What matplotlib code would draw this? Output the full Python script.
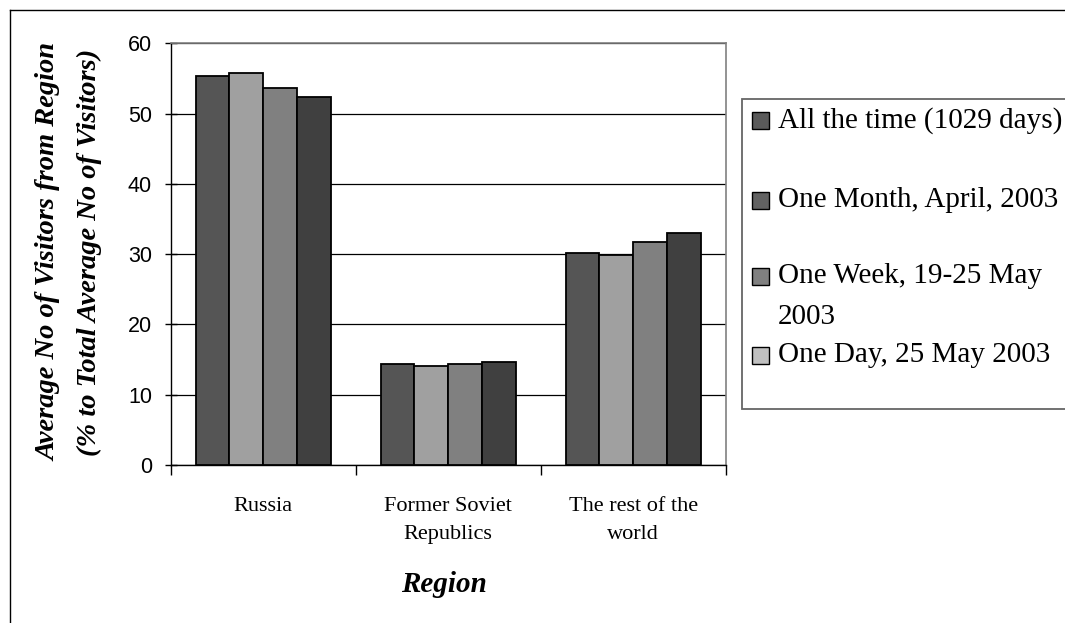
import matplotlib
matplotlib.use("Agg")
import matplotlib.pyplot as plt
from matplotlib.patches import Rectangle
from matplotlib.lines import Line2D
import numpy as np

# ---- data -------------------------------------------------------------
regions = ["Russia", "Former Soviet\nRepublics", "The rest of the\nworld"]
series_labels = ["All the time (1029 days)", "One Month, April, 2003",
                 "One Week, 19-25 May\n2003", "One Day, 25 May 2003"]
all_time = [55.4, 14.4, 30.1]
one_month = [55.8, 14.1, 29.9]
one_week = [53.6, 14.4, 31.7]
one_day = [52.4, 14.6, 33.0]
series_values = [all_time, one_month, one_week, one_day]
y_ticks = [0, 10, 20, 30, 40, 50, 60]

# ---- styling ----------------------------------------------------------
bar_colors = ["#555555", "#a0a0a0", "#808080", "#404040"]
legend_colors = ["#5a5a5a", "#626262", "#808080", "#c0c0c0"]
SERIF = "Liberation Serif"
SANS = "Liberation Sans"

W, H = 1065, 623
fig = plt.figure(figsize=(W / 100, H / 100), dpi=100)


def fx(x):
    return x / W


def fy(y):
    return 1 - y / H


# outer chart frame (left and top edges)
fig.add_artist(Line2D([fx(9.5), fx(9.5)], [fy(10), fy(H + 5)], color="#000000", lw=1.0,
                      transform=fig.transFigure))
fig.add_artist(Line2D([fx(9.5), fx(W + 5)], [fy(10), fy(10)], color="#000000", lw=1.0,
                      transform=fig.transFigure))

left, right, top, bottom = 170.7, 725.7, 43.3, 465.0
ax = fig.add_axes([fx(left), fy(bottom), fx(right - left), (bottom - top) / H])

n_series = len(series_values)
x = np.arange(len(regions))
bar_w = 0.1824
for i, (vals, col) in enumerate(zip(series_values, bar_colors)):
    offs = (i - (n_series - 1) / 2) * bar_w
    ax.bar(x + offs, vals, width=bar_w, color=col, edgecolor="#000000",
           linewidth=1.3, zorder=3)

ax.set_xlim(-0.5, len(regions) - 0.5)
ax.set_ylim(0, 60)
ax.set_yticks(y_ticks)
ax.set_yticklabels([str(t) for t in y_ticks], fontfamily=SANS, fontsize=15.5)
ax.yaxis.grid(True, color="#000000", lw=0.9, zorder=0)
ax.set_axisbelow(True)

ax.set_xticks(x)
ax.set_xticklabels(regions, fontfamily=SERIF, fontsize=16, linespacing=1.65, va="top")
ax.set_xticks(np.arange(len(regions) + 1) - 0.5, minor=True)
ax.tick_params(axis="x", which="major", length=0, pad=23)
ax.tick_params(axis="x", which="minor", length=7, width=1, direction="out", color="#000000")
ax.tick_params(axis="y", length=9, width=1, direction="inout", pad=9, color="#000000")

for s in ("left", "bottom"):
    ax.spines[s].set_color("#000000")
    ax.spines[s].set_linewidth(1.0)
for s in ("top", "right"):
    ax.spines[s].set_color("#808080")
    ax.spines[s].set_linewidth(1.2)

# axis titles
fig.text(fx(49), fy(252), "Average No of Visitors from Region", rotation=90,
         ha="center", va="center", fontfamily=SERIF, fontsize=20.5,
         fontweight="bold", fontstyle="italic")
fig.text(fx(89), fy(252), "(% to Total Average No of Visitors)", rotation=90,
         ha="center", va="center", fontfamily=SERIF, fontsize=20.5,
         fontweight="bold", fontstyle="italic")
fig.text(fx(444), fy(585), "Region", ha="center", va="center", fontfamily=SERIF,
         fontsize=21, fontweight="bold", fontstyle="italic")

# legend box
fig.add_artist(Rectangle((fx(742), fy(409)), fx(340), (409 - 98.5) / H,
                         transform=fig.transFigure, facecolor="white",
                         edgecolor="#666666", lw=1.3))
row_y = [121, 200, 276, 355]
line_step = 41
for label, col, ry in zip(series_labels, legend_colors, row_y):
    fig.add_artist(Rectangle((fx(752), fy(ry + 8.5)), fx(17), 17 / H,
                             transform=fig.transFigure, facecolor=col,
                             edgecolor="#000000", lw=1.0))
    for j, line in enumerate(label.split("\n")):
        fig.text(fx(778), fy(ry + j * line_step), line, ha="left", va="center",
                 fontfamily=SERIF, fontsize=21)

fig.savefig("out.png", dpi=100)
